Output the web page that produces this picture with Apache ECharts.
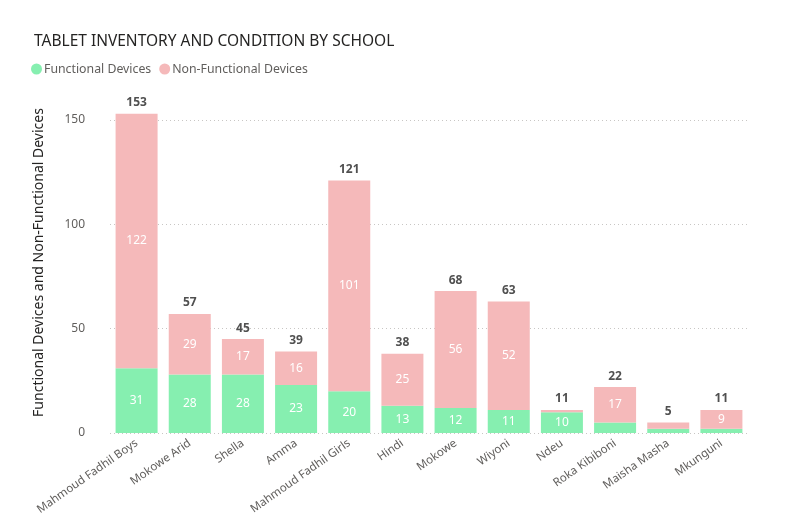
<!DOCTYPE html>
<html>
<head>
<meta charset="utf-8">
<script src="https://cdn.jsdelivr.net/npm/echarts@6/dist/echarts.min.js"></script>
<style>html,body{margin:0;padding:0;background:#fff}#c{width:808px;height:520px}</style>
</head>
<body>
<div id="c"></div>
<script>
var schools = ["Mahmoud Fadhil Boys","Mokowe Arid","Shella","Amma","Mahmoud Fadhil Girls","Hindi","Mokowe","Wiyoni","Ndeu","Roka Kibiboni","Maisha Masha","Mkunguni"];
var functional = [31,28,28,23,20,13,12,11,10,5,2,2];
var nonFunctional = [122,29,17,16,101,25,56,52,1,17,3,9];
var totals = [153,57,45,39,121,38,68,63,11,22,5,11];
var yTicks = [0,50,100,150];

var chart = echarts.init(document.getElementById('c'));
function inner(p){ return p.value >= 9 ? String(p.value) : ''; }
chart.setOption({
  animation:false,
  title:{text:'TABLET INVENTORY AND CONDITION BY SCHOOL',left:29,top:29,
    textStyle:{fontFamily:'Noto Sans',fontSize:15.5,fontWeight:'normal',color:'#252423'}},
  legend:{left:26,top:58,itemGap:8,icon:'circle',itemWidth:11,itemHeight:11,
    textStyle:{fontFamily:'Noto Sans',fontSize:12.3,color:'#605E5C',padding:[0,0,0,-3]},
    data:['Functional Devices','Non-Functional Devices']},
  grid:{left:110,right:60,top:120,bottom:87},
  xAxis:{type:'category',data:schools,
    axisLine:{show:false},axisTick:{show:false},
    axisLabel:{rotate:35,interval:0,margin:9,color:'#605E5C',fontFamily:'Noto Sans',fontSize:11.5}},
  yAxis:{type:'value',min:0,max:150,interval:50,
    name:'Functional Devices and Non-Functional Devices',nameLocation:'middle',nameGap:64,
    nameTextStyle:{fontFamily:'Noto Sans',fontSize:14,color:'#252423',padding:[0,0,0,28]},
    axisLabel:{color:'#605E5C',fontFamily:'Noto Sans',fontSize:12,margin:25,
      formatter:function(v){return yTicks.indexOf(v)>=0?String(v):'';}},
    splitLine:{lineStyle:{type:[1,3],color:'#C8C6C4'}}},
  series:[
    {name:'Functional Devices',type:'bar',stack:'t',data:functional,barCategoryGap:'21%',clip:false,
     itemStyle:{color:'#86EFB0'},
     label:{show:true,position:'inside',color:'#fff',fontFamily:'Noto Sans',fontSize:12,formatter:inner}},
    {name:'Non-Functional Devices',type:'bar',stack:'t',data:nonFunctional,clip:false,
     itemStyle:{color:'#F5B9BA'},
     label:{show:true,position:'inside',color:'#fff',fontFamily:'Noto Sans',fontSize:12,formatter:inner}},
    {name:'Total',type:'bar',stack:'t',data:totals.map(function(){return 0;}),clip:false,silent:true,
     itemStyle:{color:'transparent'},tooltip:{show:false},
     label:{show:true,position:'top',distance:5,color:'#505050',fontFamily:'Noto Sans',fontSize:12,fontWeight:'bold',
       formatter:function(p){return String(totals[p.dataIndex]);}}}
  ]
});
</script>
</body>
</html>
